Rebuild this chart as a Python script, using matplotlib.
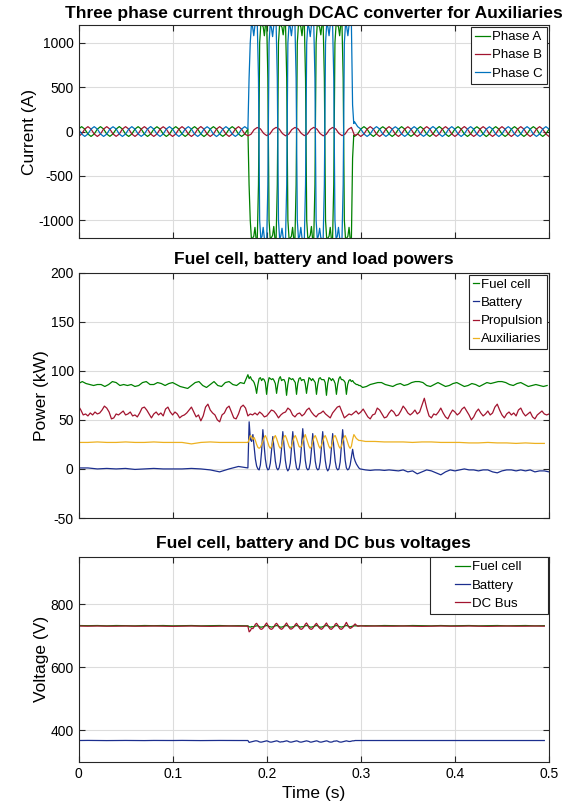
import numpy as np
import matplotlib.pyplot as plt
from matplotlib.legend_handler import HandlerLine2D

plt.rcParams['font.family'] = ['Liberation Sans', 'DejaVu Sans']
plt.rcParams['axes.unicode_minus'] = False

# ---------------- data ----------------
# top panel: phase currents (A), slow samples every 1/300 s, event samples every 1/800 s
dt_slow = 1.0 / 300
dt_fast = 1.0 / 800
t_event_i = 0.18125
t_post_i = 88.0 / 300

phaseA_pre = [28, 55, 28, -28, -55, -28, 27, 55, 29, -28, -54, -27, 28, 56, 28, -29, -55, -28,
              28, 55, 28, -28, -55, -28, 27, 54, 28, -28, -55, -29, 28, 55, 28, -27, -55, -28,
              29, 55, 27, -28, -56, -28, 28, 55, 28, -28, -54, -28, 28, 55, 29, -28, -55, -28, 28]
phaseC_pre = [28, -28, -55, -28, 28, 55, 28, -27, -55, -29, 28, 54, 29, -28, -55, -28, 27, 55,
              28, -28, -54, -28, 28, 56, 28, -28, -55, -28, 29, 55, 27, -28, -55, -27, 28, 55,
              28, -29, -55, -28, 28, 54, 28, -28, -56, -28, 27, 55, 28, -28, -55, -28, 28, 55, 28]
phaseA_event = [-600, -1000, -1210, -1200, -1180, -1080, -1215, -1205, -600, 1000, 1210, 1200, 1180, 1080, 1215, 1205,
                600, -1000, -1215, -1195, -1170, -1070, -1210, -1205, -600, 1000, 1215, 1195, 1175, 1090, 1210, 1205,
                600, -1000, -1210, -1200, -1180, -1080, -1215, -1205, -600, 1000, 1210, 1200, 1180, 1080, 1215, 1205,
                600, -1000, -1215, -1195, -1170, -1070, -1210, -1205, -600, 1000, 1215, 1195, 1175, 1090, 1210, 1205,
                600, -1000, -1210, -1200, -1180, -1080, -1215, -1205, -600, 1000, 1210, 1200, 1180, 1080, 1215, 1205,
                600, -1000, -1210, -1200, -1180, -1080, -1215, -1205, -300, -40]
phaseC_event = [600, 1000, 1210, 1180, 1080, 1200, 1215, 1205, 600, -1000, -1210, -1180, -1080, -1200, -1215, -1205,
                -600, 1000, 1215, 1170, 1070, 1195, 1210, 1205, 600, -1000, -1215, -1175, -1090, -1195, -1210, -1205,
                -600, 1000, 1210, 1180, 1080, 1200, 1215, 1205, 600, -1000, -1210, -1180, -1080, -1200, -1215, -1205,
                -600, 1000, 1215, 1170, 1070, 1195, 1210, 1205, 600, -1000, -1215, -1175, -1090, -1195, -1210, -1205,
                -600, 1000, 1210, 1180, 1080, 1200, 1215, 1205, 600, -1000, -1210, -1180, -1080, -1200, -1215, -1205,
                -600, 1000, 1210, 1180, 1080, 1200, 1215, 1205, 300, 90]
phaseA_post = [-55, -28, 28, 55, 28, -28, -55, -27, 28, 54, 29, -28, -55, -28, 27, 55, 28, -28,
               -54, -28, 28, 55, 28, -29, -55, -28, 28, 56, 28, -28, -55, -27, 29, 55, 28, -28,
               -55, -28, 28, 54, 27, -28, -56, -28, 28, 55, 28, -28, -55, -29, 28, 55, 28, -27,
               -55, -28, 28, 55, 29, -28, -55, -28, 28]
phaseC_post = [110, 55, 28, -28, -55, -28, 28, 55, 28, -27, -55, -29, 28, 54, 28, -28, -55, -28,
               27, 55, 28, -28, -54, -28, 28, 56, 29, -28, -55, -28, 28, 55, 27, -28, -55, -27,
               28, 55, 28, -29, -55, -28, 28, 54, 28, -28, -56, -28, 28, 55, 28, -28, -55, -28,
               29, 55, 28, -28, -55, -28, 28, 55, 28]
phaseB_all = [-55, -28, 28, 55, 28, -28, -55, -28, 28, 55, 28, -28, -54, -28, 28, 55, 29, -28,
              -55, -27, 28, 55, 28, -28, -55, -28, 28, 54, 28, -28, -55, -28, 27, 55, 28, -28,
              -55, -28, 28, 56, 28, -28, -55, -29, 28, 55, 28, -28, -55, -28, 28, 55, 27, -28,
              -48, -30, 22, 46, 30, -20, -46, -28, 24, 47, 28, -22, -48, -30, 22, 46, 30, -20,
              -46, -28, 24, 47, 28, -22, -48, -30, 22, 46, 30, -20, -46, -28, 24, 47, -45, -28,
              -55, -28, 28, 55, 28, -28, -55, -28, 28, 55, 28, -28, -55, -27, 28, 54, 28, -28,
              -55, -28, 28, 55, 29, -28, -54, -28, 28, 55, 28, -28, -55, -28, 28, 56, 28, -28,
              -55, -29, 28, 55, 28, -28, -55, -28, 27, 55, 28, -28, -55, -28, 28, 55, 28, -28,
              -55, -28, 28, 55, 28, -28, -55]

# middle panel: powers (kW)
t_ev = 0.18
dt_ev = 0.001325
fc_pow_pre = [87, 89, 87, 86, 85, 86, 86, 84, 86, 89, 88, 85, 86, 85, 86, 84, 85, 88, 89, 86,
              86, 88, 87, 85, 87, 88, 86, 84, 83, 82, 85, 88, 89, 85, 83, 86, 89, 85, 84, 88,
              89, 86, 85, 88, 87]  # step 0.004 from 0
fc_pow_event = [96, 92, 94, 91, 90, 88, 84, 77,
                86, 92, 93, 90, 92, 91, 88, 76,
                87, 93, 92, 91, 92, 90, 87, 77,
                86, 92, 94, 90, 91, 91, 88, 75,
                86, 93, 92, 91, 92, 90, 88, 76,
                87, 92, 93, 90, 91, 91, 87, 77,
                86, 93, 92, 90, 92, 90, 88, 76,
                86, 92, 93, 91, 91, 91, 88, 75,
                87, 93, 92, 90, 92, 90, 87, 76,
                86, 92, 94, 91, 91, 90, 88, 76,
                86, 90, 91, 89, 90, 88, 87, 86, 86, 85, 85]
fc_pow_post = [83, 84, 86, 87, 88, 88, 86, 85, 84, 86, 87, 85, 86, 88, 89, 89, 88, 85, 84, 86,
               88, 86, 84, 85, 87, 88, 86, 84, 85, 87, 86, 84, 86, 88, 87, 88, 89, 89, 88, 86,
               85, 87, 88, 86, 84, 85, 86, 85, 84, 85]  # step 0.004 from 0.302
bat_pow_pre = [1, 1, 0, 0.5, 0, 0.5, -0.5, 0, 0.5, 0, 0, 0, 0.5, 0, -1, -3, 0, 2.5]  # step 0.01
bat_pow_event = [1, 48, 30, 28, 35, 22, 10, 3, 0, -1, 4, 18,
                 40, 24, 10, 2, -1, 0, 6, 20,
                 33, 20, 8, 1, -1, 1, 7, 21,
                 38, 23, 9, 1, -2, 0, 6, 22,
                 38, 22, 9, 1, -1, 0, 7, 24,
                 41, 24, 9, 1, -1, 0, 6, 20,
                 36, 22, 8, 1, -1, 0, 7, 23,
                 38, 22, 9, 1, -2, 0, 6, 21,
                 36, 21, 8, 1, -1, 0, 7, 24,
                 40, 24, 9, 1, -1, 0, 4, 12,
                 20, 12, 8, 5, 3, 1, 0]
bat_pow_post = [-1, -1.5, -1, -1, -1.5, -1, -1.5, -2, -1, -3, -2, -5, -3, -1, -2, -4, -6, -3, -1, -2,
                -1, 0, -1, -1, -2, -1, -1, -3, -4, -2, -1, -1, -2, -1, -2, -1, -3, -2, -2, -3]  # step 0.005 from 0.305
aux_pow_pre = [27, 27, 27.5, 27, 27, 27.5, 27, 27, 27.5, 27, 27, 27, 25.5, 27, 27.5, 27, 27, 27]  # step 0.01
aux_pow_event = [27, 30, 34, 33, 30, 32, 29, 25, 22, 21, 22, 25,
                 28, 32, 34, 31, 27, 23, 21, 23,
                 28, 32, 34, 31, 27, 23, 21, 23,
                 28, 33, 34, 31, 27, 23, 21, 23,
                 28, 32, 34, 31, 27, 23, 22, 23,
                 28, 32, 35, 31, 27, 23, 21, 23,
                 28, 32, 34, 31, 27, 23, 21, 24,
                 28, 32, 34, 31, 27, 23, 21, 23,
                 28, 33, 34, 31, 27, 23, 21, 23,
                 28, 32, 34, 31, 27, 23, 21, 23,
                 30, 35, 33, 31, 30, 29, 29]
aux_pow_post = [28, 28, 27.5, 27.5, 27.5, 27, 27.5, 27.5, 27, 27, 27, 26.5, 26.5, 27, 26.5, 26.5, 26,
                26.5, 26, 26]  # step 0.01 from 0.305
prop_pow = [64, 60, 55, 56, 54, 57, 55, 58, 56, 57,
            60, 64, 62, 58, 51, 52, 56, 55, 57, 59,
            55, 56, 58, 54, 55, 53, 57, 62, 63, 60,
            56, 52, 56, 58, 55, 57, 54, 61, 63, 58,
            55, 58, 56, 52, 54, 55, 57, 60, 63, 58,
            53, 55, 49, 54, 63, 66, 60, 57, 55, 50,
            48, 55, 57, 62, 64, 58, 52, 51, 56, 63,
            65, 62, 54, 56, 55, 57, 55, 58, 56, 53,
            54, 57, 60, 59, 56, 52, 55, 57, 58, 62,
            60, 55, 53, 56, 57, 54, 56, 60, 62, 58,
            55, 53, 56, 57, 59, 56, 54, 52, 57, 60,
            63, 64, 58, 52, 54, 56, 55, 57, 59, 56,
            58, 61, 57, 53, 51, 55, 56, 62, 60, 56,
            52, 53, 57, 60, 58, 54, 55, 59, 64, 61,
            57, 55, 57, 60, 56, 58, 65, 72, 62, 54,
            52, 56, 55, 58, 62, 57, 53, 51, 56, 60,
            58, 55, 57, 61, 63, 59, 55, 50, 53, 58,
            61, 57, 54, 56, 59, 55, 57, 63, 66, 60,
            55, 52, 56, 58, 55, 57, 54, 60, 62, 57,
            54, 56, 58, 53, 51, 55, 57, 59, 56, 55,
            56]  # step 0.0025 from 0

# bottom panel: voltages (V)
fc_v_pre = [732, 731.5, 732, 731, 732, 731.5, 731, 732, 731.5, 732, 731, 731.5, 732, 731, 731.5, 732,
            731, 731.5]  # step 0.01
fc_v_event = [731, 728, 727, 729, 728, 729, 730, 731,
              731, 729, 727, 727, 728, 729, 731, 732,
              731, 729, 728, 727, 728, 729, 731, 732,
              731, 729, 727, 727, 728, 730, 731, 732,
              731, 728, 727, 727, 728, 729, 731, 732,
              731, 729, 727, 728, 728, 729, 731, 732,
              731, 729, 727, 727, 728, 729, 731, 732,
              731, 728, 727, 727, 728, 730, 731, 732,
              731, 729, 727, 727, 728, 729, 731, 732,
              731, 729, 728, 727, 728, 729, 731, 732,
              731, 729, 728, 729, 730, 731, 731, 731, 731, 731, 731]
fc_v_post = [731.5, 731, 732, 731.5, 731, 732, 731.5, 731, 732, 731, 731.5, 732, 731, 731.5, 732,
             731, 731.5, 732, 731, 731.5]  # step 0.01 from 0.305
dc_v_pre = [730.5, 730, 730.5, 730, 730, 730.5, 730, 730, 730.5, 730, 729.5, 730, 730.5, 730,
            729.5, 730, 730.5, 730]
dc_v_event = [730, 712, 716, 724, 722, 728, 736, 739,
              733, 726, 721, 720, 723, 728, 735, 740,
              733, 725, 721, 720, 723, 729, 736, 739,
              734, 726, 722, 720, 723, 728, 735, 740,
              733, 726, 721, 721, 724, 728, 735, 739,
              733, 726, 721, 720, 723, 728, 736, 740,
              734, 725, 721, 720, 723, 729, 735, 739,
              733, 726, 722, 720, 723, 728, 735, 740,
              733, 726, 721, 720, 724, 728, 736, 739,
              734, 726, 721, 720, 723, 728, 735, 742,
              734, 727, 723, 725, 728, 733, 737, 733, 730, 730, 731]
dc_v_post = [730, 730.5, 730, 730, 730.5, 730, 729.5, 730, 730.5, 730, 730, 730.5, 730, 729.5, 730,
             730.5, 730, 730, 730.5, 730]
bat_v_pre = [368, 368.3, 368, 367.8, 368, 368.2, 368, 367.8, 368.2, 368, 368, 368.3, 368, 367.8,
             368, 368.2, 368, 368]
bat_v_event = [368, 362, 363, 364, 365, 366, 367, 367,
               366, 364, 363, 363, 364, 365, 366, 367,
               366, 364, 363, 363, 364, 365, 366, 367,
               366, 364, 363, 364, 364, 365, 366, 367,
               366, 364, 363, 363, 364, 365, 366, 367,
               366, 364, 363, 363, 364, 365, 366, 367,
               366, 365, 363, 363, 364, 365, 366, 367,
               366, 364, 363, 363, 364, 365, 366, 367,
               366, 364, 363, 363, 364, 366, 366, 367,
               366, 364, 363, 363, 364, 365, 366, 367,
               366, 365, 365, 366, 367, 367, 368, 368, 368, 368, 368]
bat_v_post = [368, 368.2, 368, 367.8, 368, 368.3, 368, 368, 367.8, 368, 368.2, 368, 368, 367.8,
              368.2, 368, 368, 368.3, 368, 368]


def seg(t0, dt, vals):
    return t0 + dt * np.arange(len(vals)), np.asarray(vals, dtype=float)


def join(*parts):
    return np.concatenate([p[0] for p in parts]), np.concatenate([p[1] for p in parts])


ia_t, ia = join(seg(0, dt_slow, phaseA_pre), seg(t_event_i, dt_fast, phaseA_event), seg(t_post_i, dt_slow, phaseA_post))
ic_t, ic = join(seg(0, dt_slow, phaseC_pre), seg(t_event_i, dt_fast, phaseC_event), seg(t_post_i, dt_slow, phaseC_post))
ib_t, ib = seg(0, dt_slow, phaseB_all)

fc_t, fc = join(seg(0, 0.004, fc_pow_pre), seg(t_ev, dt_ev, fc_pow_event), seg(0.302, 0.004, fc_pow_post))
bt_t, bt = join(seg(0, 0.01, bat_pow_pre), seg(t_ev, dt_ev, bat_pow_event), seg(0.305, 0.005, bat_pow_post))
ax_t, axp = join(seg(0, 0.01, aux_pow_pre), seg(t_ev, dt_ev, aux_pow_event), seg(0.305, 0.01, aux_pow_post))
pr_t, pr = seg(0, 0.0025, prop_pow)

fv_t, fv = join(seg(0, 0.01, fc_v_pre), seg(t_ev, dt_ev, fc_v_event), seg(0.305, 0.01, fc_v_post))
dv_t, dv = join(seg(0, 0.01, dc_v_pre), seg(t_ev, dt_ev, dc_v_event), seg(0.305, 0.01, dc_v_post))
bv_t, bv = join(seg(0, 0.01, bat_v_pre), seg(t_ev, dt_ev, bat_v_event), seg(0.305, 0.01, bat_v_post))

green = '#008000'
crimson = '#A2142F'
blue = '#0072BD'
navy = '#1B2E8E'
gold = '#EDB120'

fig = plt.figure(figsize=(5.71, 8.09), dpi=100)
ax1 = fig.add_axes([0.1375, 0.7058, 0.824, 0.2632])
ax2 = fig.add_axes([0.1375, 0.3597, 0.824, 0.3033])
ax3 = fig.add_axes([0.1375, 0.0581, 0.824, 0.2538])

lw = 0.9
ax1.plot(ia_t, ia, color=green, lw=lw, label='Phase A')
ax1.plot(ib_t, ib, color=crimson, lw=lw, label='Phase B')
ax1.plot(ic_t, ic, color=blue, lw=lw, label='Phase C')
ax1.set_ylim(-1200, 1200)
ax1.set_yticks([-1000, -500, 0, 500, 1000])
ax1.set_ylabel('Current (A)', fontsize=12.5, labelpad=1)
ax1.set_title('Three phase current through DCAC converter for Auxiliaries', fontsize=12.5, fontweight='bold', pad=5)

ax2.plot(fc_t, fc, color=green, lw=lw, label='Fuel cell')
ax2.plot(bt_t, bt, color=navy, lw=lw, label='Battery')
ax2.plot(pr_t, pr, color=crimson, lw=lw, label='Propulsion')
ax2.plot(ax_t, axp, color=gold, lw=lw, label='Auxiliaries')
ax2.set_ylim(-50, 200)
ax2.set_yticks([-50, 0, 50, 100, 150, 200])
ax2.set_ylabel('Power (kW)', fontsize=12.5, labelpad=1)
ax2.set_title('Fuel cell, battery and load powers', fontsize=12.5, fontweight='bold', pad=6)

ax3.plot(fv_t, fv, color=green, lw=lw, label='Fuel cell')
ax3.plot(bv_t, bv, color=navy, lw=lw, label='Battery')
ax3.plot(dv_t, dv, color=crimson, lw=lw, label='DC Bus')
ax3.set_ylim(300, 950)
ax3.set_yticks([400, 600, 800])
ax3.set_ylabel('Voltage (V)', fontsize=12.5, labelpad=1)
ax3.set_xlabel('Time (s)', fontsize=12.5)
ax3.set_title('Fuel cell, battery and DC bus voltages', fontsize=12.5, fontweight='bold', pad=6)

for ax in (ax1, ax2, ax3):
    ax.set_xlim(0, 0.5)
    ax.set_xticks([0, 0.1, 0.2, 0.3, 0.4, 0.5])
    ax.grid(True, color='#dcdcdc', lw=0.8)
    ax.set_axisbelow(True)
    ax.tick_params(direction='in', top=True, right=True, labelsize=10, length=4, width=0.8, color='#262626')
    for s in ax.spines.values():
        s.set_color('#262626')
        s.set_linewidth(0.8)
ax1.tick_params(labelbottom=False)
ax2.tick_params(labelbottom=False)
ax3.set_xticklabels(['0', '0.1', '0.2', '0.3', '0.4', '0.5'])

leg_kw = dict(fontsize=9.5, fancybox=False, framealpha=1, edgecolor='#262626',
              borderpad=0.3, labelspacing=0.45)
legs = [ax1.legend(loc='upper right', borderaxespad=0.15, handlelength=1.2, handletextpad=0.15, **leg_kw),
        ax2.legend(loc='upper right', borderaxespad=0.15, handlelength=0.4, handletextpad=0.15, **leg_kw),
        ax3.legend(loc='upper right', bbox_to_anchor=(0.747, 0.0, 0.251, 0.997), mode='expand',
                   borderaxespad=0, handlelength=2.75, handletextpad=0.1,
                   handler_map={plt.Line2D: HandlerLine2D(xpad=1.6)}, **leg_kw)]
for leg in legs:
    leg.get_frame().set_linewidth(0.8)

fig.savefig('out.png', dpi=100)
